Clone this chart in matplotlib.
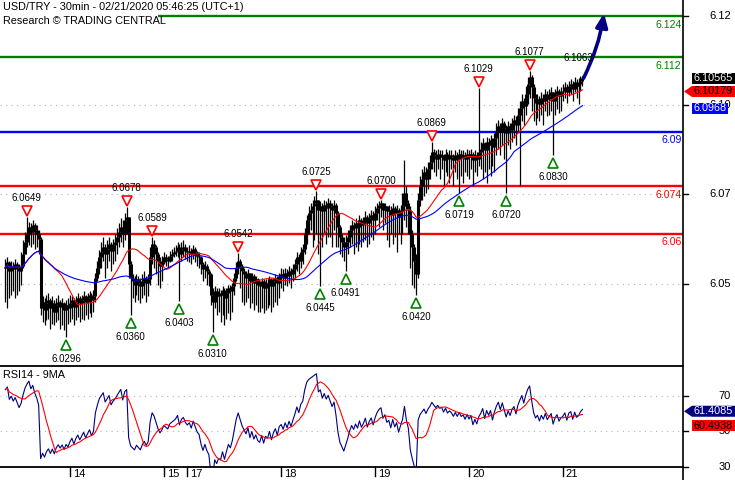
import numpy as np
import pandas as pd
import matplotlib
matplotlib.use("Agg")
import matplotlib.pyplot as plt
from matplotlib import transforms
from matplotlib.patches import Polygon
from matplotlib.lines import Line2D

plt.rcParams['font.family'] = ['Liberation Sans', 'DejaVu Sans']

# ---------------- data (pips above 6.0000, 1 pip = 0.0001) ----------------
# 30-min bars, grouped by trading day
c13 = [500, 515, 490, 505, 495, 510, 500, 490, 505, 540, 575, 600, 620, 605, 625, 610, 600, 585, 380, 400,
       375, 395, 405, 380, 395, 370, 390, 400, 385, 395, 375, 390, 380]
h13 = [525, 530, 520, 520, 515, 525, 515, 510, 545, 580, 605, 649, 635, 630, 640, 632, 625, 610, 590, 415,
       410, 420, 425, 410, 415, 405, 410, 420, 405, 410, 400, 405, 410]
l13 = [400, 380, 410, 420, 430, 410, 420, 430, 450, 500, 540, 560, 565, 560, 570, 555, 560, 540, 360, 340,
       330, 345, 350, 320, 335, 330, 340, 345, 320, 330, 315, 296, 335]

c14 = [395, 405, 385, 400, 410, 395, 405, 415, 400, 410, 420, 405, 415,
       470, 500, 530, 545, 560, 540, 555, 570, 550, 565, 575,
       590, 605, 620, 600, 640, 650, 510, 470,
       460, 450, 465, 455, 445, 460, 470, 455, 465,
       530, 570, 560, 540, 520, 505, 515]
h14 = [420, 415, 410, 415, 425, 415, 420, 430, 420, 425, 430, 425, 435,
       485, 520, 552, 575, 590, 570, 580, 590, 575, 585, 600,
       615, 630, 645, 640, 660, 678, 640, 520,
       480, 475, 480, 475, 470, 480, 490, 475, 480,
       560, 589, 580, 565, 545, 530, 535]
l14 = [340, 350, 330, 345, 355, 340, 350, 345, 360, 350, 365, 355, 370,
       400, 460, 480, 500, 520, 470, 500, 520, 490, 510, 520,
       540, 560, 575, 560, 580, 600, 470, 360,
       410, 400, 420, 405, 396, 410, 420, 400, 415,
       450, 510, 500, 480, 450, 440, 460]

c15 = [530, 525, 520, 535, 540, 545, 550, 560, 540, 555, 560, 550]
h15 = [545, 540, 535, 550, 555, 560, 565, 575, 570, 575, 580, 570]
l15 = [510, 505, 500, 515, 520, 530, 535, 530, 403, 520, 530, 525]

c17 = [545, 550, 540, 555, 545, 535, 530, 510, 495, 505, 490, 480,
       420, 400, 430, 415, 425, 420, 435, 410, 425, 440, 430, 445, 470,
       500, 520, 505, 490, 480, 470, 485, 460, 475, 455, 465, 450,
       445, 460, 440, 455, 450, 465, 445, 460, 470, 455, 475]
h17 = [560, 565, 558, 565, 560, 550, 545, 535, 515, 520, 510, 495,
       485, 440, 445, 440, 440, 435, 445, 440, 440, 450, 450, 455, 485,
       515, 542, 525, 510, 500, 490, 495, 485, 485, 480, 475, 470,
       460, 470, 465, 465, 465, 475, 470, 470, 480, 475, 485]
l17 = [520, 515, 510, 525, 515, 505, 500, 480, 460, 470, 450, 445,
       390, 310, 380, 360, 370, 340, 360, 330, 350, 365, 345, 370, 420,
       460, 480, 440, 400, 390, 400, 410, 380, 395, 375, 390, 370,
       370, 380, 365, 375, 380, 390, 370, 385, 400, 390, 410]

c18 = [480, 470, 485, 475, 490, 480, 495, 510, 530, 520, 545, 555,
       600, 640, 660, 670, 680, 690, 700, 670, 680, 665, 685, 675, 690,
       680, 670, 685, 660, 620, 590, 575, 560, 575, 590,
       610, 625, 615, 630, 620, 640, 625, 635, 650, 630, 645, 655, 640]
h18 = [500, 495, 500, 495, 505, 500, 510, 525, 545, 540, 560, 570,
       615, 655, 680, 690, 700, 710, 725, 700, 695, 690, 700, 695, 705,
       700, 690, 700, 690, 665, 625, 600, 590, 595, 610,
       625, 640, 635, 645, 640, 655, 645, 650, 665, 655, 660, 670, 665]
l18 = [440, 430, 450, 445, 455, 440, 460, 470, 490, 480, 500, 510,
       540, 570, 600, 610, 560, 580, 600, 540, 445, 560, 600, 570, 590,
       590, 560, 610, 560, 560, 540, 530, 520, 491, 540,
       560, 570, 540, 560, 550, 570, 560, 575, 580, 560, 570, 590, 580]

c19 = [660, 675, 685, 690, 670, 680, 665, 670, 655, 675, 660, 670, 650, 665, 680,
       720, 690, 670, 600, 560, 520, 480, 700, 740, 760, 780, 760, 790, 810,
       840, 830, 820, 835, 825, 830, 815, 835, 820, 830, 825, 815, 830, 820, 835, 825, 830, 820, 835]
h19 = [680, 690, 695, 700, 690, 690, 680, 685, 680, 690, 680, 685, 675, 685, 720,
       816, 740, 700, 680, 610, 570, 540, 720, 770, 790, 800, 795, 810, 830,
       869, 850, 845, 850, 845, 845, 835, 850, 840, 845, 845, 835, 845, 840, 850, 845, 845, 840, 850]
l19 = [600, 640, 620, 650, 610, 630, 580, 560, 600, 570, 590, 545, 600, 570, 600,
       640, 620, 600, 500, 450, 440, 420, 470, 680, 700, 710, 720, 730, 760,
       790, 780, 770, 790, 760, 790, 740, 780, 770, 750, 790, 740, 780, 760, 719, 770, 750, 780, 770]

c20 = [825, 835, 815, 830, 820, 840, 850, 865, 845, 870, 860, 875, 855, 880, 900,
       915, 900, 925, 910, 895, 915, 905, 925, 935, 920, 950, 970, 990, 975, 1010,
       1040, 1060, 1030, 1000, 985, 995, 980, 1000, 990, 1010, 995, 1005, 1015, 990, 1010, 1020, 1005, 1015]
h20 = [845, 850, 840, 845, 840, 1029, 870, 880, 870, 885, 880, 890, 880, 895, 925,
       935, 925, 940, 930, 920, 930, 925, 940, 950, 945, 970, 990, 1010, 1000, 1035,
       1060, 1077, 1065, 1040, 1010, 1010, 1005, 1015, 1010, 1025, 1020, 1025, 1030, 1015, 1025, 1035, 1025, 1030]
l20 = [760, 790, 740, 780, 770, 800, 790, 760, 780, 750, 790, 770, 800, 780, 830,
       850, 830, 860, 820, 720, 860, 850, 870, 880, 860, 900, 740, 930, 920, 950,
       980, 1000, 960, 930, 920, 940, 930, 950, 920, 960, 945, 950, 960, 830, 950, 965, 955, 960]

c21 = [1020, 1030, 1015, 1035, 1040, 1025, 1045, 1035, 1040, 1050, 1056.5]
h21 = [1040, 1045, 1040, 1050, 1055, 1050, 1060, 1055, 1058, 1062, 1063]
l21 = [990, 1000, 985, 1005, 1010, 990, 1015, 1000, 980, 1020, 1035]

day_labels = ["14", "15", "17", "18", "19", "20", "21"]

# support / resistance levels
levels = [6.124, 6.112, 6.09, 6.074, 6.06]
level_labels = ["6.124", "6.112", "6.09", "6.074", "6.06"]
level_colors = ["#008000", "#008000", "#0000ff", "#ff0000", "#ff0000"]
level_start = [78, -3, -3, -3, -3]

# swing highs / lows annotated on chart
hi_idx = [11, 62, 75, 119, 159, 192, 218, 242, 268]
hi_val = [6.0649, 6.0678, 6.0589, 6.0542, 6.0725, 6.0700, 6.0869, 6.1029, 6.1077]
lo_idx = [31, 64, 89, 106, 161, 174, 210, 232, 256, 280]
lo_val = [6.0296, 6.0360, 6.0403, 6.0310, 6.0445, 6.0491, 6.0420, 6.0719, 6.0720, 6.0830]

# right axis ticks (labels are rounded by the platform)
price_ticks = [6.1240, 6.0978, 6.0717, 6.0452]
price_tick_labels = ["6.12", "6.10", "6.07", "6.05"]
rsi_ticks = [70, 50, 30]
rsi_tick_labels = ["70", "50", "30"]

# last values shown in boxes
last_close_txt = "6.10565"
ma_fast_txt, ma_fast_val = "6.10179", 6.10179
ma_slow_txt, ma_slow_val = "6.0968", 6.0968
rsi_txt, rsi_val = "61.4085", 61.4085
rsi_ma_txt, rsi_ma_val = "60.4938", 60.4938

arrow_target = 6.1248
arrow_ahead = 11
arrow_label = "6.1063"

# ---------------- preparation ----------------
def pr(v):
    return 6.0 + np.asarray(v, float) / 1e4

close = pr(c13 + c14 + c15 + c17 + c18 + c19 + c20 + c21)
high = pr(h13 + h14 + h15 + h17 + h18 + h19 + h20 + h21)
low = pr(l13 + l14 + l15 + l17 + l18 + l19 + l20 + l21)
n = len(close)
opn = np.r_[close[0], close[:-1]]
high = np.maximum.reduce([high, opn, close])
low = np.minimum.reduce([low, opn, close])
idx = np.arange(n)
day_sizes = [len(c13), len(c14), len(c15), len(c17), len(c18), len(c19), len(c20)]
day_starts = np.cumsum(day_sizes)

s = pd.Series(close)
ma_fast = s.rolling(20, min_periods=1).mean()
ma_slow = s.rolling(50, min_periods=1).mean()

d = np.diff(close, prepend=close[0])
g = np.clip(d, 0, None)
lo_ = np.clip(-d, 0, None)
ag, al = g[1:15].mean(), lo_[1:15].mean()
rsi = np.empty(n)
for k in range(n):
    if k > 0:
        ag = (ag * 13 + g[k]) / 14
        al = (al * 13 + lo_[k]) / 14
    rsi[k] = 100 - 100 / (1 + ag / al)
rsi_ma = pd.Series(rsi).rolling(9, min_periods=1).mean()

# ---------------- figure ----------------
W, H = 735, 480
fig = plt.figure(figsize=(W / 100, H / 100), dpi=100)
fig.patch.set_facecolor("white")

AX_R = 683
MAIN_BOT = 366
RSI_BOT = 467
ax = fig.add_axes([0, 1 - MAIN_BOT / H, AX_R / W, MAIN_BOT / H])
ax2 = fig.add_axes([0, 1 - RSI_BOT / H, AX_R / W, (RSI_BOT - MAIN_BOT) / H], sharex=ax)
for a in (ax, ax2):
    for sp in a.spines.values():
        sp.set_visible(False)
    a.set_xticks([])
    a.set_yticks([])
    a.patch.set_alpha(0)

ax.set_xlim(-2.76, 346.4)
ax.set_ylim(6.02105, 6.12870)
ax2.set_ylim(30, 86.9)

# grid
for t in price_ticks[1:]:
    ax.axhline(t, color="#b4b4b4", lw=0.8, ls=(0, (1, 4)), zorder=0)
for t in rsi_ticks[:2]:
    ax2.axhline(t, color="#b4b4b4", lw=0.8, ls=(0, (1, 4)), zorder=0)

# levels
for lv, lab, col, st in zip(levels, level_labels, level_colors, level_start):
    ax.plot([st, 346.4], [lv, lv], color=col, lw=1.7, zorder=2, solid_capstyle="butt")
    ax.annotate(lab, xy=(1, lv), xycoords=("axes fraction", "data"),
                xytext=(-1, -6.3), textcoords="offset points",
                ha="right", va="center", color=col, fontsize=7.6, zorder=6)

# bars
ax.vlines(idx, low, high, color="black", lw=0.9, zorder=3)
btm = np.minimum(opn, close)
top = np.maximum(opn, close)
top = np.where(top - btm < 0.0001, btm + 0.0001, top)
ax.vlines(idx, btm, top, color="black", lw=2.2, zorder=3)

# moving averages
ax.plot(idx, ma_fast, color="#ff0000", lw=0.8, zorder=4)
ax.plot(idx, ma_slow, color="#0000ff", lw=0.8, zorder=4)

# swing markers
up_tri = transforms.offset_copy(ax.transData, fig=fig, y=6, units="dots")
up_txt = transforms.offset_copy(ax.transData, fig=fig, y=19, units="dots")
dn_tri = transforms.offset_copy(ax.transData, fig=fig, y=-8, units="dots")
dn_txt = transforms.offset_copy(ax.transData, fig=fig, y=-22, units="dots")
for i, v in zip(hi_idx, hi_val):
    ax.plot(i, v, marker="v", ms=7.5, mfc="white", mec="#ff0000", mew=1.2, transform=up_tri, zorder=6)
    ax.text(i, v, f"{v:.4f}", transform=up_txt, ha="center", va="center", fontsize=7.0, zorder=6)
for i, v in zip(lo_idx, lo_val):
    ax.plot(i, v, marker="^", ms=7.5, mfc="white", mec="#008000", mew=1.2, transform=dn_tri, zorder=6)
    ax.text(i, v, f"{v:.4f}", transform=dn_txt, ha="center", va="center", fontsize=7.0, zorder=6)

# projection arrow
ax.annotate("", xy=(n - 1 + arrow_ahead, arrow_target), xytext=(n - 0.5, close[-1]),
            arrowprops=dict(arrowstyle="-|>,head_length=0.8,head_width=0.35", color="#000080",
                            lw=2.6, shrinkA=0, shrinkB=0, connectionstyle="arc3,rad=0.08"),
            zorder=7)
lab_tr = transforms.offset_copy(ax.transData, fig=fig, y=20, units="dots")
ax.text(n - 3, close[-1], arrow_label, transform=lab_tr, ha="center", va="center",
        fontsize=7.0, zorder=8)

# RSI panel
ax2.plot(idx, rsi, color="#000080", lw=0.8, zorder=3)
ax2.plot(idx, rsi_ma, color="#ff0000", lw=0.8, zorder=4)

# frame lines
fig.add_artist(Line2D([AX_R / W, AX_R / W], [0, 1], transform=fig.transFigure, color="black", lw=1.2))
for yy in (MAIN_BOT, RSI_BOT):
    fig.add_artist(Line2D([0, AX_R / W], [1 - yy / H, 1 - yy / H], transform=fig.transFigure,
                          color="black", lw=1.3))

# right axis ticks & labels
def ypix(a, v):
    return a.transData.transform((0, v))[1]

for a, ticks, labs in ((ax, price_ticks, price_tick_labels), (ax2, rsi_ticks, rsi_tick_labels)):
    for t, lab in zip(ticks, labs):
        yp = ypix(a, t) / H
        fig.add_artist(Line2D([AX_R / W, (AX_R + 5) / W], [yp, yp], transform=fig.transFigure,
                              color="black", lw=1.0))
        fig.text(731 / W, yp, lab, ha="right", va="center", fontsize=8.0, zorder=3)

# day ticks
for ds, lab in zip(day_starts, day_labels):
    xp = ax2.transData.transform((ds, 0))[0]
    fig.add_artist(Line2D([xp / W, xp / W], [1 - RSI_BOT / H, 1 - (RSI_BOT + 9) / H],
                          transform=fig.transFigure, color="black", lw=1.0))
    fig.text((xp + 3) / W, 1 - 474 / H, lab, ha="left", va="center", fontsize=8.0)

# value boxes
def box(a, val, txt, fc, tc, arrow=False, dy=0, width=None):
    yc = ypix(a, val) + dy
    h = 11
    x0 = 692
    x1 = 735 if width is None else x0 + width
    if arrow:
        verts = [(684, yc), (692, yc + h / 2), (x1, yc + h / 2), (x1, yc - h / 2), (692, yc - h / 2)]
    else:
        verts = [(x0, yc + h / 2), (x1, yc + h / 2), (x1, yc - h / 2), (x0, yc - h / 2)]
    verts = [(vx / W, vy / H) for vx, vy in verts]
    fig.add_artist(Polygon(verts, closed=True, transform=fig.transFigure, facecolor=fc,
                           edgecolor="none", zorder=10))
    fig.text(694 / W, yc / H, txt, ha="left", va="center", color=tc, fontsize=7.8, zorder=11)

box(ax, close[-1], last_close_txt, "black", "white")
box(ax, ma_fast_val, ma_fast_txt, "#ff0000", "black", arrow=True)
box(ax, ma_slow_val, ma_slow_txt, "#0000ff", "white", width=36)
box(ax2, rsi_val, rsi_txt, "#000080", "white", arrow=True)
box(ax2, rsi_ma_val, rsi_ma_txt, "#ff0000", "black", dy=-13)

# titles
fig.text(3 / W, 1 - 7.5 / H, "USD/TRY - 30min - 02/21/2020 05:46:25 (UTC+1)", ha="left",
         va="center", fontsize=7.8)
fig.text(3 / W, 1 - 20.5 / H, "Research \u00a9 TRADING CENTRAL", ha="left", va="center", fontsize=7.8)
fig.text(3 / W, 1 - 375 / H, "RSI14 - 9MA", ha="left", va="center", fontsize=7.8)

fig.savefig("out.png", dpi=100, facecolor="white")
